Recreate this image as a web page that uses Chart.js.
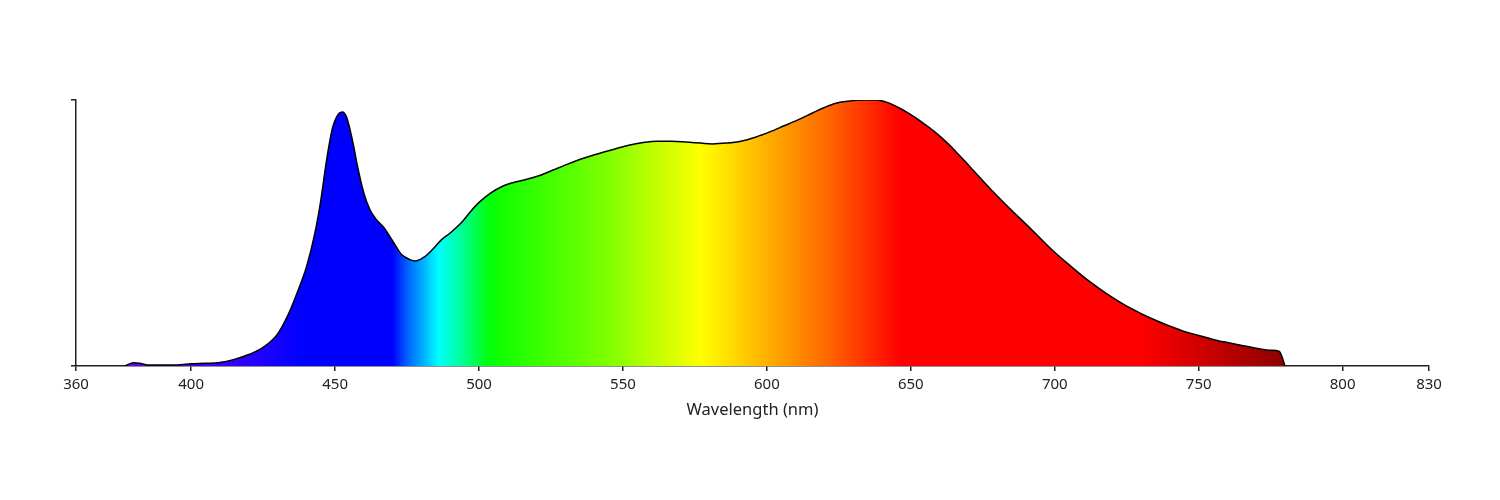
<!DOCTYPE html>
<html>
<head>
<meta charset="utf-8">
<script src="https://cdn.jsdelivr.net/npm/chart.js@4.4.1/dist/chart.umd.min.js"></script>
<style>
  html, body { margin: 0; padding: 0; background: #fff; }
  #wrap { width: 1500px; height: 500px; }
</style>
</head>
<body>
<div id="wrap"><canvas id="spectrumChart" width="1500" height="500"></canvas></div>
<script>
// =============================================================================
// DATA
// =============================================================================
const wavelengths = [
  377, 380, 382, 385, 390, 395, 400, 405, 410, 415, 420, 425, 430, 434, 437,
  440, 443, 445, 447, 449, 451, 452.5, 454, 456, 458, 460, 462, 464, 467, 470,
  473, 476, 478, 481, 484, 487, 490, 494, 497, 500, 504, 508, 512, 516, 521,
  526, 531, 536, 542, 547, 552, 557, 562, 567, 572, 577, 581, 586, 591, 596,
  601, 606, 611, 616, 620, 624, 628, 633, 638, 642, 646, 650, 654, 658, 663,
  667, 673, 679, 685, 692, 699, 705, 710, 715, 720, 725, 730, 735, 740, 745,
  750, 755, 760, 765, 770, 775, 778, 780
];

const intensity = [
  0, 0.012, 0.01, 0.004, 0.004, 0.004, 0.008, 0.01, 0.013, 0.025, 0.043, 0.07, 0.12, 0.2, 0.28,
  0.37, 0.5, 0.62, 0.77, 0.89, 0.945, 0.955, 0.935, 0.85, 0.74, 0.65, 0.59, 0.555, 0.52, 0.47,
  0.42, 0.4, 0.395, 0.41, 0.44, 0.475, 0.5, 0.54, 0.58, 0.615, 0.65, 0.675, 0.69, 0.7, 0.716,
  0.738, 0.76, 0.78, 0.8, 0.815, 0.83, 0.84, 0.845, 0.845, 0.842, 0.838, 0.835, 0.838, 0.845, 0.86,
  0.88, 0.903, 0.926, 0.952, 0.972, 0.988, 0.995, 1.0, 1.0, 0.99, 0.97, 0.945, 0.915, 0.883, 0.835,
  0.79, 0.72, 0.65, 0.585, 0.512, 0.437, 0.38, 0.335, 0.295, 0.258, 0.225, 0.197, 0.172, 0.15, 0.13,
  0.115, 0.1, 0.088, 0.077, 0.067, 0.059, 0.055, 0
];

const xTickValues = [360, 400, 450, 500, 550, 600, 650, 700, 750, 800, 830];

// spectrum colours along the wavelength axis
const colorStopNm = [380, 415, 428, 438, 470, 475, 486, 494, 503, 507, 545, 577, 600, 623, 646, 730, 771, 780];
const colorStopHex = [
  "#6a00ff", "#3300ff", "#1800ff", "#0000ff", "#0000ff", "#0060ff", "#00ffff", "#00ff99",
  "#00ff10", "#10ff00", "#80ff00", "#ffff00", "#ffb000", "#ff6000", "#ff0000", "#ff0000",
  "#a00000", "#900000"
];

// =============================================================================
// SPECTRUM FILL
// =============================================================================
function spectrumFill(ctx) {
  const chart = ctx.chart;
  const area = chart.chartArea;
  if (!area) return "#0000ff";
  const xs = chart.scales.x;
  const x0 = xs.getPixelForValue(colorStopNm[0]);
  const x1 = xs.getPixelForValue(colorStopNm[colorStopNm.length - 1]);
  const g = chart.ctx.createLinearGradient(x0, 0, x1, 0);
  const span = colorStopNm[colorStopNm.length - 1] - colorStopNm[0];
  colorStopNm.forEach((nm, i) => {
    g.addColorStop((nm - colorStopNm[0]) / span, colorStopHex[i]);
  });
  return g;
}

// =============================================================================
// CHART
// =============================================================================
const points = wavelengths.map((w, i) => ({ x: w, y: intensity[i] }));
const fontFamily = "'Noto Sans', 'Open Sans', sans-serif";

new Chart(document.getElementById("spectrumChart").getContext("2d"), {
  type: "line",
  data: {
    datasets: [{
      data: points,
      borderColor: "#000",
      borderWidth: 1.5,
      backgroundColor: spectrumFill,
      fill: "origin",
      pointRadius: 0,
      cubicInterpolationMode: "monotone"
    }]
  },
  options: {
    responsive: false,
    animation: false,
    layout: { padding: { top: 100, right: 71, left: 0, bottom: 78 } },
    plugins: {
      legend: { display: false },
      tooltip: { enabled: false }
    },
    scales: {
      x: {
        type: "linear",
        min: 360,
        max: 830,
        afterBuildTicks: axis => {
          axis.ticks = xTickValues.map(v => ({ value: v }));
        },
        afterFit: axis => { axis.height = 56; },
        ticks: {
          color: "#222",
          font: { family: fontFamily, size: 15 },
          padding: 5,
          maxRotation: 0,
          autoSkip: false
        },
        grid: { drawOnChartArea: false, tickLength: 5, color: "#222", lineWidth: 1.5 },
        border: { color: "#222", width: 1.5 },
        title: {
          display: true,
          text: "Wavelength (nm)",
          color: "#222",
          font: { family: fontFamily, size: 16.5 },
          padding: { top: 0, bottom: 2 }
        }
      },
      y: {
        min: 0,
        max: 1,
        afterBuildTicks: axis => {
          axis.ticks = [{ value: 0 }, { value: 1 }];
        },
        afterFit: axis => { axis.width = 76; },
        ticks: { display: false },
        grid: { drawOnChartArea: false, tickLength: 5, color: "#222", lineWidth: 1.5 },
        border: { color: "#222", width: 1.5 }
      }
    }
  }
});
</script>
</body>
</html>
